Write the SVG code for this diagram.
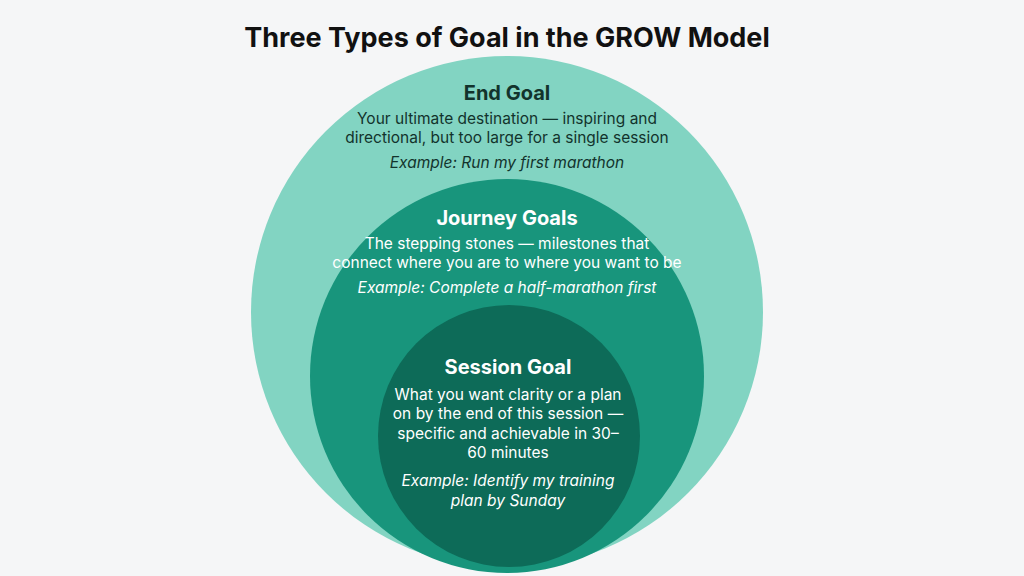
<svg xmlns="http://www.w3.org/2000/svg" width="1024" height="576" viewBox="0 0 1024 576">
<style>
text{font-family:Inter,"Liberation Sans",sans-serif;text-anchor:middle}
.t{font-size:27px;font-weight:700;fill:#111}
.h{font-size:20px;font-weight:700}
.b{font-size:15.5px}
.e{font-size:15.5px;font-style:italic}
.dk{fill:#12332c}
.wh{fill:#fff}
</style>
<rect width="1024" height="576" fill="#f5f6f7"/>
<text class="t" x="507" y="47">Three Types of Goal in the GROW Model</text>
<g id="end-goal">
<circle cx="507" cy="312" r="256" fill="#82d4c2"/>
<text class="h dk" x="507" y="100">End Goal</text>
<text class="b dk" x="507" y="124">Your ultimate destination — inspiring and</text>
<text class="b dk" x="507" y="143">directional, but too large for a single session</text>
<text class="e dk" x="507" y="168">Example: Run my first marathon</text>
</g>
<g id="journey-goals">
<circle cx="507" cy="376" r="197" fill="#18957c"/>
<text class="h wh" x="507" y="225">Journey Goals</text>
<text class="b wh" x="507" y="249">The stepping stones — milestones that</text>
<text class="b wh" x="507" y="268">connect where you are to where you want to be</text>
<text class="e wh" x="507" y="293">Example: Complete a half-marathon first</text>
</g>
<g id="session-goal">
<circle cx="509" cy="436" r="131" fill="#0d6b58"/>
<text class="h wh" x="508" y="374">Session Goal</text>
<text class="b wh" x="508" y="400">What you want clarity or a plan</text>
<text class="b wh" x="508" y="419">on by the end of this session —</text>
<text class="b wh" x="508" y="439">specific and achievable in 30–</text>
<text class="b wh" x="508" y="458">60 minutes</text>
<text class="e wh" x="508" y="486">Example: Identify my training</text>
<text class="e wh" x="508" y="506">plan by Sunday</text>
</g>
<g id="connectors"/>
</svg>
